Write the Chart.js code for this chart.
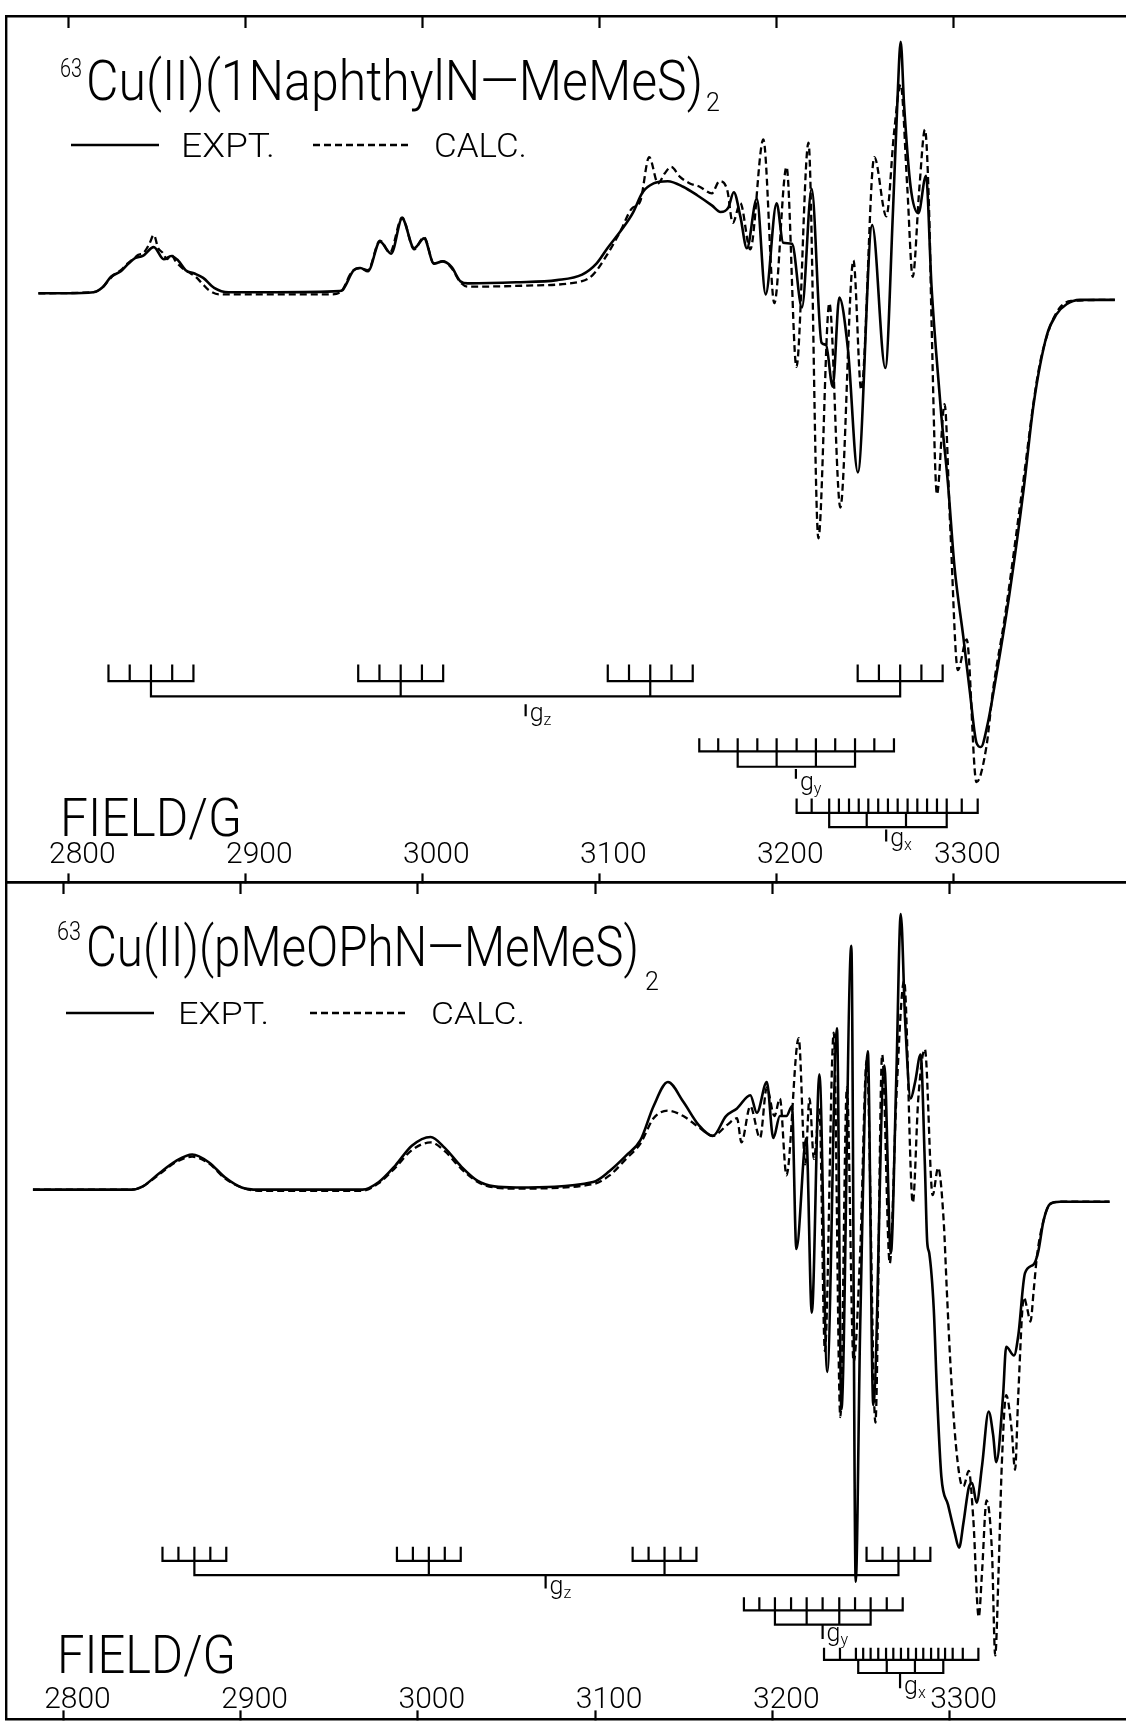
<!DOCTYPE html>
<html>
<head>
<meta charset="utf-8">
<title>63Cu(II) EPR spectra</title>
<script src="https://cdn.jsdelivr.net/npm/chart.js@4.4.1/dist/chart.umd.min.js"></script>
<style>
  html, body { margin: 0; padding: 0; background: #fff; }
  #page { position: relative; width: 1126px; height: 1723px; overflow: hidden; background: #fff; }
  canvas { position: absolute; left: 0; }
  #overlay { position: absolute; left: 0; top: 0; pointer-events: none; }
</style>
</head>
<body>
<div id="page">
  <canvas id="topChart" width="1126" height="890" style="top:0px;width:1126px;height:890px"></canvas>
  <canvas id="bottomChart" width="1126" height="853" style="top:870px;width:1126px;height:853px"></canvas>
  <svg id="overlay" width="1126" height="1723" xmlns="http://www.w3.org/2000/svg">
    <g font-family="Roboto, 'Liberation Sans', sans-serif" font-weight="300" fill="#000">
      <!-- upper panel heading and key -->
      <text x="60" y="77" font-size="26" textLength="22" lengthAdjust="spacingAndGlyphs">63</text>
      <text x="86" y="100" font-size="55" textLength="617" lengthAdjust="spacingAndGlyphs">Cu(II)(1NaphthylN—MeMeS)</text>
      <text x="706" y="111" font-size="25">2</text>
      <line x1="71" y1="145" x2="159" y2="145" stroke="#000" stroke-width="2.5"/>
      <text x="181" y="157" font-size="33" textLength="94" lengthAdjust="spacingAndGlyphs">EXPT.</text>
      <line x1="313" y1="145" x2="412" y2="145" stroke="#000" stroke-width="2.3" stroke-dasharray="7 4"/>
      <text x="434" y="157" font-size="33" textLength="93" lengthAdjust="spacingAndGlyphs">CALC.</text>
      <text x="60" y="836" font-size="53" textLength="182" lengthAdjust="spacingAndGlyphs">FIELD/G</text>
      <!-- lower panel heading and key -->
      <text x="57" y="940" font-size="26" textLength="24" lengthAdjust="spacingAndGlyphs">63</text>
      <text x="86" y="966" font-size="55" textLength="553" lengthAdjust="spacingAndGlyphs">Cu(II)(pMeOPhN—MeMeS)</text>
      <text x="645" y="990" font-size="25">2</text>
      <line x1="66" y1="1013" x2="154" y2="1013" stroke="#000" stroke-width="2.5"/>
      <text x="178" y="1024" font-size="32" textLength="91" lengthAdjust="spacingAndGlyphs">EXPT.</text>
      <line x1="310" y1="1013" x2="409" y2="1013" stroke="#000" stroke-width="2.3" stroke-dasharray="7 4"/>
      <text x="431" y="1024" font-size="32" textLength="94" lengthAdjust="spacingAndGlyphs">CALC.</text>
      <text x="57" y="1673" font-size="53" textLength="179" lengthAdjust="spacingAndGlyphs">FIELD/G</text>
    </g>
  </svg>
</div>
<script>
// Magnetic field axis (Gauss)
const fieldTicks = [2800, 2900, 3000, 3100, 3200, 3300];
const fieldTickLabels = ['2800', '2900', '3000', '3100', '3200', '3300'];

// ---- Cu(II)(1NaphthylN-MeMeS)2 : experimental first-derivative spectrum ----
const napExptField = [2783.1, 2798.6, 2814.2, 2819.7, 2824.1, 2829.7, 2834.0, 2837.7, 2842.1, 2848.3,
  2853.9, 2858.2, 2862.0, 2866.3, 2871.3, 2876.2, 2882.4, 2890.5, 2916.6, 2953.2,
  2955.0, 2961.3, 2965.0, 2969.3, 2976.1, 2982.4, 2988.6, 2995.4, 3001.0, 3006.6,
  3011.5, 3016.5, 3021.5, 3025.8, 3053.1, 3076.1, 3090.3, 3098.4, 3104.6, 3112.7,
  3118.9, 3124.5, 3130.7, 3138.7, 3147.4, 3155.5, 3163.6, 3168.5, 3172.9, 3176.0,
  3179.7, 3183.4, 3189.0, 3194.0, 3200.2, 3203.9, 3208.9, 3214.5, 3220.0, 3225.6,
  3228.1, 3231.9, 3235.6, 3240.5, 3246.1, 3254.2, 3261.6, 3266.0, 3268.5, 3270.3,
  3272.2, 3275.9, 3280.3, 3284.6, 3287.7, 3290.2, 3293.3, 3297.0, 3300.7, 3305.7,
  3309.4, 3313.1, 3315.6, 3319.3, 3324.3, 3331.8, 3339.8, 3345.4, 3352.9, 3358.4,
  3364.0, 3371.5, 3391.3];
const napExptSignal = [0, 0, 1, 6, 15, 20, 27, 32, 34, 42,
  31, 34, 30, 21, 18, 14, 5, 1, 1, 2,
  3, 21, 23, 20, 47, 36, 68, 41, 50, 27,
  29, 24, 11, 9, 10, 12, 17, 27, 41, 58,
  73, 92, 100, 102, 97, 89, 80, 74, 78, 92,
  70, 41, 86, -1, 82, 46, 45, -13, 95, -45,
  -47, -85, -4, -51, -163, 62, -68, 77, 177, 229,
  172, 97, 73, 107, 7, -51, -112, -173, -249, -313,
  -363, -409, -413, -393, -348, -273, -178, -101, -38, -19,
  -10, -6, -6];

// ---- Cu(II)(1NaphthylN-MeMeS)2 : simulated spectrum ----
const napCalcField = [2783.1, 2814.2, 2819.1, 2822.9, 2825.9, 2829.7, 2833.4, 2836.5, 2839.6, 2842.7,
  2845.8, 2848.3, 2850.8, 2853.3, 2855.7, 2858.2, 2860.7, 2864.4, 2868.2, 2871.9,
  2875.6, 2879.3, 2885.5, 2894.8, 2947.6, 2953.8, 2960.0, 2964.4, 2969.3, 2976.1,
  2981.7, 2988.6, 2995.4, 3001.0, 3006.6, 3011.5, 3016.5, 3021.5, 3025.8, 3059.3,
  3090.3, 3096.5, 3104.0, 3112.1, 3118.3, 3123.2, 3128.2, 3133.2, 3136.9, 3140.6,
  3145.6, 3151.2, 3156.7, 3163.6, 3167.9, 3172.3, 3175.4, 3179.7, 3185.3, 3192.7,
  3198.9, 3205.8, 3211.4, 3218.2, 3223.8, 3230.0, 3236.2, 3243.6, 3248.0, 3255.4,
  3262.2, 3266.6, 3270.3, 3274.0, 3277.1, 3280.9, 3284.0, 3286.5, 3287.7, 3290.8,
  3295.1, 3298.3, 3302.6, 3307.6, 3313.1, 3318.7, 3322.4, 3329.3, 3338.6, 3347.9,
  3354.1, 3360.3, 3366.5, 3391.3];
const napCalcSignal = [0, 1, 5, 12, 17, 21, 27, 31, 35, 37,
  45, 53, 41, 37, 31, 35, 29, 23, 19, 15,
  9, 3, -1, -1, -1, 1, 19, 23, 21, 48,
  37, 69, 40, 51, 27, 29, 23, 10, 6, 7,
  11, 17, 34, 57, 77, 84, 124, 100, 109, 115,
  106, 100, 97, 91, 102, 94, 64, 82, 40, 140,
  -9, 115, -67, 137, -223, -9, -195, 30, -88, 124,
  70, 147, 190, 97, 15, 97, 149, 67, -24, -183,
  -101, -213, -343, -315, -445, -413, -362, -293, -183, -73,
  -33, -13, -7, -6];

// Stick patterns (field positions in G) for the naphthyl complex
const napGzCenters = [2846.7, 2987.8, 3128.8, 3270.0];
const napGzOffsets = [-24, -12, 0, 12, 24];
const napGyLines = [3156.5, 3167.2, 3178.2, 3189.3, 3200.2, 3211.5, 3222.4, 3233.3, 3244.5, 3255.4, 3266.5];
const napGyCu = [3178.2, 3200.2, 3222.4, 3244.5];
const napGxLines = [3211.5, 3220.0, 3229.9, 3235.4, 3241.1, 3246.6, 3252.0, 3257.6, 3263.1, 3268.6,
  3274.2, 3279.7, 3285.2, 3290.8, 3296.3, 3304.8, 3313.8];
const napGxCu = [3229.9, 3251.1, 3273.3, 3296.3];
const napGValues = { z: 3058.4, y: 3211.1, x: 3262.1 };

// ---- Cu(II)(pMeOPhN-MeMeS)2 : experimental spectrum ----
const pmoExptField = [2782.8, 2838.6, 2844.8, 2854.1, 2863.4, 2872.7, 2882.0, 2891.3, 2900.6, 2909.9,
  2968.7, 2978.0, 2987.3, 2996.6, 3007.2, 3015.2, 3024.5, 3033.8, 3043.1, 3055.5,
  3098.9, 3108.2, 3117.5, 3125.6, 3133.0, 3141.1, 3149.8, 3158.4, 3166.5, 3173.9,
  3180.1, 3187.6, 3191.3, 3196.9, 3200.6, 3204.3, 3208.0, 3211.1, 3213.6, 3219.2,
  3222.3, 3226.6, 3231.0, 3236.5, 3239.0, 3244.6, 3247.1, 3249.6, 3253.9, 3257.0,
  3263.2, 3266.9, 3270.0, 3272.5, 3275.0, 3278.1, 3280.6, 3283.7, 3286.1, 3287.4,
  3288.6, 3291.1, 3293.0, 3295.4, 3299.2, 3302.9, 3305.4, 3307.9, 3310.9, 3312.8,
  3315.3, 3318.4, 3322.1, 3324.6, 3326.4, 3330.2, 3332.0, 3336.4, 3338.8, 3342.6,
  3347.5, 3350.0, 3353.1, 3356.8, 3362.4, 3390.3];
const pmoExptSignal = [0, 0, 3, 15, 26, 32, 25, 11, 2, 0,
  0, 7, 22, 40, 48, 38, 21, 8, 3, 2,
  7, 17, 31, 45, 76, 98, 80, 59, 49, 67,
  74, 86, 70, 98, 47, 67, 67, 76, -54, 47,
  -112, 105, -166, 147, -200, 222, -357, -125, 126, -196,
  113, -58, 103, 251, 153, 83, 98, 123, 23, -47,
  -58, -108, -187, -261, -287, -312, -326, -303, -271, -267,
  -285, -251, -202, -223, -248, -188, -143, -151, -133, -76,
  -68, -57, -28, -13, -11, -11];

// ---- Cu(II)(pMeOPhN-MeMeS)2 : simulated spectrum ----
const pmoCalcField = [2782.8, 2838.6, 2844.8, 2854.1, 2863.4, 2872.7, 2882.0, 2891.3, 2900.6, 2909.9,
  2968.7, 2978.0, 2987.3, 2996.6, 3007.2, 3015.2, 3024.5, 3033.8, 3043.1, 3055.5,
  3098.9, 3108.2, 3117.5, 3125.6, 3133.0, 3141.1, 3149.8, 3158.4, 3166.5, 3174.6,
  3180.1, 3182.6, 3187.6, 3193.1, 3196.9, 3201.2, 3204.3, 3208.0, 3214.9, 3218.6,
  3221.0, 3223.5, 3226.6, 3229.7, 3234.7, 3238.4, 3242.1, 3245.9, 3249.6, 3253.3,
  3258.2, 3262.0, 3266.3, 3270.0, 3274.4, 3279.3, 3282.4, 3286.1, 3290.5, 3293.6,
  3296.7, 3298.5, 3300.4, 3302.9, 3306.0, 3307.9, 3310.9, 3313.4, 3316.5, 3318.4,
  3320.9, 3324.0, 3325.8, 3327.7, 3329.5, 3332.0, 3335.1, 3337.0, 3338.8, 3342.0,
  3343.8, 3345.7, 3347.5, 3349.4, 3353.1, 3356.8, 3362.4, 3390.3];
const pmoCalcSignal = [0, 0, 3, 14, 25, 30, 24, 10, 2, -1,
  -1, 6, 20, 36, 43, 35, 19, 7, 2, 1,
  5, 13, 28, 42, 65, 72, 67, 57, 49, 59,
  65, 43, 76, 47, 93, 67, 83, 13, 138, 23,
  83, 28, 73, -147, 143, -207, 93, -157, -57, 118,
  -212, 123, -67, 83, 190, -12, 83, 128, -5, 20,
  -28, -92, -155, -219, -264, -270, -256, -299, -389, -347,
  -283, -331, -424, -347, -251, -187, -219, -255, -187, -98,
  -108, -120, -92, -60, -28, -13, -11, -11];

// Stick patterns for the p-methoxyphenyl complex
const pmoGzCenters = [2873.9, 3006.2, 3139.2, 3271.2];
const pmoGzOffsets = [-18, -9, 0, 9, 18];
const pmoGyLines = [3184.0, 3192.7, 3201.5, 3210.6, 3219.4, 3228.4, 3237.8, 3246.7, 3255.5, 3264.6, 3273.6];
const pmoGyCu = [3201.5, 3219.4, 3237.8, 3255.5];
const pmoGxLines = [3229.2, 3238.2, 3247.2, 3251.3, 3255.5, 3259.8, 3264.2, 3268.3, 3272.6, 3276.7,
  3281.1, 3285.2, 3289.6, 3293.7, 3297.5, 3301.8, 3307.5, 3316.3];
const pmoGxCu = [3248.5, 3264.6, 3280.5, 3296.5];
const pmoGValues = { z: 3072.1, y: 3228.4, x: 3272.1 };

// Vertical placement of the stick diagrams (signal units of each panel)
const napLevels = {
  z: { top: -339, base: -353, line: -367, mTop: -375, mBot: -384, label: -389 },
  y: { top: -406, base: -417, line: -431, mTop: -434, mBot: -441, label: -452 },
  x: { top: -461, base: -473, line: -486, mTop: -489, mBot: -498, label: -503 }
};
const pmoLevels = {
  z: { top: -326, base: -338, line: -351, mTop: -353, mBot: -362, label: -368 },
  y: { top: -372, base: -383, line: -396, mTop: -398, mBot: -408, label: -411 },
  x: { top: -418, base: -428, line: -440, mTop: -442, mBot: -453, label: -459 }
};

function zip(xs, ys) { return xs.map((x, i) => ({ x: x, y: ys[i] })); }

function seg(out, x1, y1, x2, y2) {
  out.push({ x: x1, y: y1 }, { x: x2, y: y2 }, { x: x2, y: null });
}
function comb(out, lines, lv) {
  seg(out, lines[0], lv.base, lines[lines.length - 1], lv.base);
  lines.forEach(t => seg(out, t, lv.base, t, lv.top));
}
function bracket(out, stems, lv) {
  stems.forEach(s => seg(out, s, lv.base, s, lv.line));
  seg(out, stems[0], lv.line, stems[stems.length - 1], lv.line);
}
function marker(out, g, lv) { seg(out, g, lv.mTop, g, lv.mBot); }

function stickPoints(p) {
  const pts = [];
  p.gzCenters.forEach(c => comb(pts, p.gzOffsets.map(o => c + o), p.levels.z));
  bracket(pts, p.gzCenters, p.levels.z);
  marker(pts, p.g.z, p.levels.z);
  comb(pts, p.gyLines, p.levels.y);
  bracket(pts, p.gyCu, p.levels.y);
  marker(pts, p.g.y, p.levels.y);
  comb(pts, p.gxLines, p.levels.x);
  bracket(pts, p.gxCu, p.levels.x);
  marker(pts, p.g.x, p.levels.x);
  return pts;
}

// Writes g_z / g_y / g_x beside the g-value markers
const gLabels = {
  id: 'gLabels',
  afterDatasetsDraw(chart, args, opts) {
    const { ctx } = chart;
    const xs = chart.scales.x, ys = chart.scales.y;
    ctx.save();
    ctx.fillStyle = '#000';
    ctx.textBaseline = 'alphabetic';
    ['z', 'y', 'x'].forEach(k => {
      const px = xs.getPixelForValue(opts.g[k]) + 4;
      const py = ys.getPixelForValue(opts.levels[k].label);
      ctx.font = '300 25px Roboto, "Liberation Sans", sans-serif';
      ctx.fillText('g', px, py);
      const w = ctx.measureText('g').width;
      ctx.font = '300 16px Roboto, "Liberation Sans", sans-serif';
      ctx.fillText(k, px + w, py + 4);
    });
    ctx.restore();
  }
};

Chart.defaults.font.family = 'Roboto, "Liberation Sans", sans-serif';
Chart.defaults.color = '#000';

function setFieldTicks(axis) { axis.ticks = fieldTicks.map(v => ({ value: v })); }

function buildPanel(id, p) {
  return new Chart(document.getElementById(id), {
    type: 'line',
    data: {
      datasets: [
        { label: 'sticks', data: stickPoints(p), borderColor: '#000', borderWidth: 2.2,
          pointRadius: 0, tension: 0, spanGaps: false, borderCapStyle: 'square' },
        { label: 'CALC.', data: zip(p.calcField, p.calcSignal), borderColor: '#000', borderWidth: 2.3,
          borderDash: [7, 4], pointRadius: 0, cubicInterpolationMode: 'monotone' },
        { label: 'EXPT.', data: zip(p.exptField, p.exptSignal), borderColor: '#000', borderWidth: 2.6,
          pointRadius: 0, cubicInterpolationMode: 'monotone', borderJoinStyle: 'round' }
      ]
    },
    options: {
      responsive: false,
      animation: false,
      devicePixelRatio: 1,
      events: [],
      layout: { padding: p.padding },
      plugins: {
        legend: { display: false },
        tooltip: { enabled: false },
        gLabels: { g: p.g, levels: p.levels }
      },
      scales: {
        // field axis sits on the lower frame edge; labels are placed just above it
        x: {
          type: 'linear', position: { y: p.yMin }, min: p.xMin, max: p.xMax,
          afterBuildTicks: setFieldTicks,
          afterFit: a => { a.height = 0; },
          ticks: {
            callback: (v, i) => fieldTickLabels[i],
            autoSkip: false, maxRotation: 0, minRotation: 0,
            padding: p.labelPad, labelOffset: 14, color: '#000',
            font: { size: 30, weight: '300' }
          },
          grid: { display: true, drawOnChartArea: false, drawTicks: true,
                  tickLength: -10, tickWidth: 2.2, tickColor: '#000' },
          border: { display: true, color: '#000', width: 2.4 }
        },
        xTop: {
          type: 'linear', position: 'top', min: p.xMin, max: p.xMax,
          afterBuildTicks: setFieldTicks,
          afterFit: a => { a.height = 0; },
          ticks: { display: false },
          grid: { display: true, drawOnChartArea: false, drawTicks: true,
                  tickLength: -12, tickWidth: 2.2, tickColor: '#000' },
          border: { display: true, color: '#000', width: 2.4 }
        },
        y: {
          type: 'linear', position: 'left', min: p.yMin, max: p.yMax,
          afterFit: a => { a.width = 0; },
          ticks: { display: false },
          grid: { display: false },
          border: { display: true, color: '#000', width: 2.4 }
        }
      }
    },
    plugins: [gLabels]
  });
}

buildPanel('topChart', {
  exptField: napExptField, exptSignal: napExptSignal,
  calcField: napCalcField, calcSignal: napCalcSignal,
  gzCenters: napGzCenters, gzOffsets: napGzOffsets,
  gyLines: napGyLines, gyCu: napGyCu, gxLines: napGxLines, gxCu: napGxCu,
  g: napGValues, levels: napLevels,
  xMin: 2764.8, xMax: 3397.6, yMin: -535.9, yMax: 252.4, labelPad: -35,
  padding: { top: 16, bottom: 8, left: 6, right: 0 }
});

buildPanel('bottomChart', {
  exptField: pmoExptField, exptSignal: pmoExptSignal,
  calcField: pmoCalcField, calcSignal: pmoCalcSignal,
  gzCenters: pmoGzCenters, gzOffsets: pmoGzOffsets,
  gyLines: pmoGyLines, gyCu: pmoGyCu, gxLines: pmoGxLines, gxCu: pmoGxCu,
  g: pmoGValues, levels: pmoLevels,
  xMin: 2767.6, xMax: 3399.6, yMin: -481.9, yMax: 280.1, labelPad: -27,
  padding: { top: 12, bottom: 4, left: 6, right: 0 }
});
</script>
</body>
</html>
